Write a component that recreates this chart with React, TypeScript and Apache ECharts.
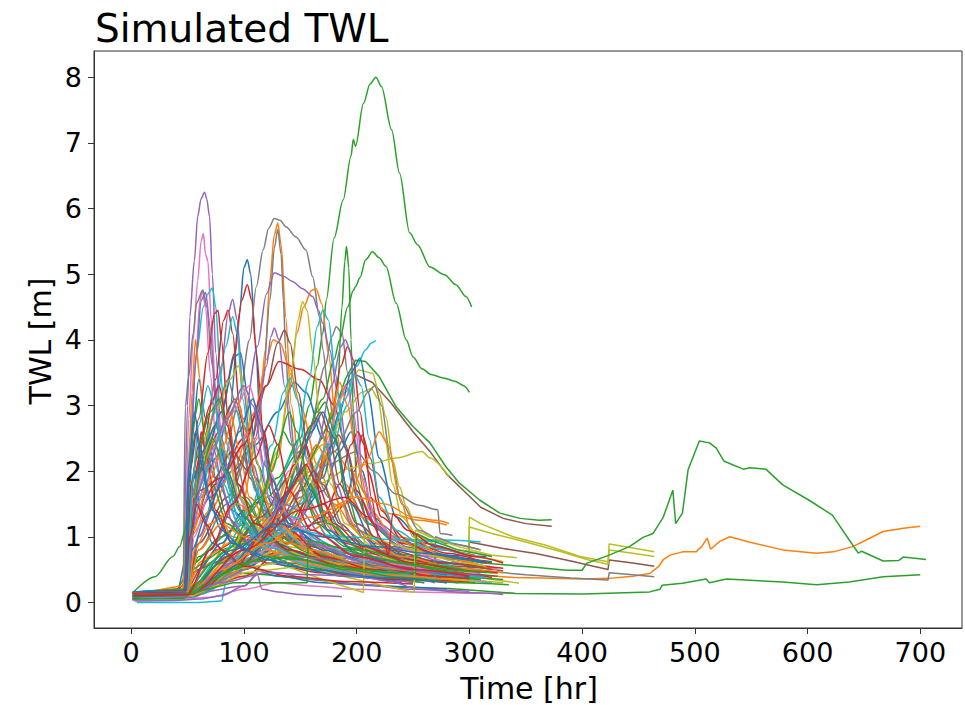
import React, { useEffect, useRef } from "react";
import * as echarts from "echarts";

type Pt = [number, number];

const xTicks = [0, 100, 200, 300, 400, 500, 600, 700];
const yTicks = [0, 1, 2, 3, 4, 5, 6, 7, 8];
const titleText = "Simulated TWL";
const xName = "Time [hr]";
const yName = "TWL [m]";

const blueRuns: Pt[][] = [
  [[2,0.12],[40,0.15],[52,0.9],[62,1.6],[75,2.2],[88,3.0],[96,4.4],[100,5.1],[103,5.22],[106,5.0],[110,4.0],[115,2.6],[125,1.6],[145,1.1],[175,0.8],[210,0.6],[260,0.45],[300,0.38]],
  [[3,0.05],[48,0.1],[55,1.2],[70,1.6],[90,2.0],[110,2.4],[130,2.9],[145,3.35],[155,3.2],[170,2.5],[185,1.6],[200,1.1],[230,0.85],[270,0.72],[315,0.7]],
  [[1,0.1],[50,0.2],[54,2.5],[60,3.4],[66,2.8],[75,1.9],[90,1.4],[110,1.0],[140,0.8],[180,0.55],[230,0.4],[290,0.3]],
  [[4,0.16],[45,0.2],[60,0.5],[80,0.9],[100,1.4],[115,1.55],[130,1.45],[150,1.1],[180,0.8],[220,0.6],[275,0.5],[318,0.55]],
  [[2,0.08],[48,0.1],[52,1.8],[65,2.2],[80,2.9],[92,3.75],[97,3.8],[103,3.2],[112,2.1],[125,1.5],[150,1.0],[190,0.7],[240,0.5],[300,0.42]],
  [[3,0.13],[50,0.15],[70,0.3],[100,0.6],[140,1.1],[170,1.7],[185,2.3],[195,2.6],[205,2.0],[215,1.3],[235,0.95],[265,0.75],[312,0.6]],
  [[5,0.1],[60,0.2],[100,0.5],[140,1.0],[170,1.9],[185,2.9],[195,3.5],[203,3.72],[210,3.2],[220,2.2],[235,1.3],[260,0.9],[300,0.7]],
  [[2,0.05],[47,0.08],[51,1.2],[56,2.0],[62,1.4],[72,0.9],[95,0.6],[130,0.4],[170,0.3],[220,0.25],[280,0.2]],
  [[4,0.1],[55,0.12],[90,0.4],[120,0.9],[145,1.8],[160,2.6],[170,2.9],[180,2.5],[195,1.5],[215,0.9],[250,0.65],[305,0.55]],
  [[1,0.15],[48,0.17],[53,1.0],[63,2.3],[75,2.7],[85,2.0],[100,1.3],[120,0.95],[160,0.7],[210,0.5],[260,0.42]],
  [[3,0.1],[49,0.12],[54,0.8],[66,1.3],[82,1.9],[96,2.6],[108,3.1],[115,2.7],[124,1.9],[140,1.2],[170,0.8],[220,0.55],[280,0.42]],
  [[2,0.05],[55,0.1],[85,0.5],[115,1.0],[135,1.6],[150,2.0],[160,1.7],[175,1.1],[200,0.75],[245,0.5],[300,0.38]],
  [[1,0.16],[47,0.18],[51,2.1],[56,2.9],[61,2.4],[68,1.6],[80,1.1],[100,0.8],[140,0.55],[190,0.4],[240,0.3]],
  [[2,0.12],[50,0.14],[90,0.8],[130,1.2],[170,1.0],[215,0.85],[260,0.75],[300,0.65],[320,0.62]],
  [[3,0.08],[48,0.1],[52,2.0],[57,2.6],[64,2.0],[72,1.4],[90,0.9],[120,0.65],[160,0.5],[220,0.38],[280,0.3]],
];

const orangeRuns: Pt[][] = [
  [[2,0.1],[50,0.15],[70,0.6],[95,1.2],[112,2.5],[119,3.85],[123,4.9],[127,5.6],[130,5.78],[133,5.45],[137,4.35],[142,3.0],[150,1.9],[165,1.3],[190,0.9],[230,0.6],[280,0.45]],
  [[3,0.05],[50,0.1],[80,0.5],[110,1.2],[130,2.2],[140,3.2],[147,4.1],[153,4.5],[160,4.75],[164,4.78],[169,4.55],[175,3.8],[182,2.6],[190,1.8],[205,1.3],[235,1.0],[280,0.8]],
  [[1,0.12],[48,0.15],[52,1.0],[70,1.4],[90,2.0],[110,2.9],[120,3.7],[126,4.0],[132,3.95],[140,3.6],[150,3.0],[165,2.1],[180,1.5],[200,1.1],[240,0.8],[285,0.65]],
  [[4,0.1],[55,0.2],[90,0.7],[130,1.4],[160,2.0],[180,2.3],[195,2.0],[210,1.6],[230,1.35],[255,1.25],[280,1.18]],
  [[2,0.08],[48,0.1],[60,0.6],[90,0.95],[120,0.85],[150,0.75],[200,0.6],[250,0.5],[300,0.43],[340,0.38],[374,0.366],[400,0.355],[424,0.366],[445,0.4],[460,0.44],[468,0.55],[472,0.65],[478,0.72],[489,0.77],[501,0.77],[506,0.85],[511,0.98],[514,0.81],[522,0.93],[531,1.0],[548,0.92],[578,0.8],[608,0.75],[623,0.77],[640,0.85],[652,0.95],[667,1.08],[685,1.13],[700,1.16]],
  [[3,0.14],[46,0.2],[50,1.6],[54,3.2],[57,4.0],[61,3.4],[66,2.2],[75,1.4],[90,1.0],[120,0.75],[160,0.55],[210,0.4],[265,0.32]],
  [[2,0.1],[60,0.15],[100,0.4],[140,0.9],[165,1.8],[178,2.9],[185,3.35],[192,3.0],[200,2.2],[212,1.4],[235,0.95],[270,0.7],[325,0.5]],
  [[3,0.05],[48,0.08],[52,1.2],[60,1.9],[75,2.5],[88,2.9],[96,2.3],[105,1.6],[125,1.1],[155,0.8],[200,0.6],[250,0.45],[300,0.36]],
  [[1,0.1],[70,0.3],[120,0.7],[160,1.1],[190,1.5],[210,2.2],[220,2.6],[228,2.4],[238,1.6],[250,1.0],[275,0.7],[320,0.5]],
  [[4,0.12],[50,0.14],[56,0.8],[70,1.2],[95,1.5],[110,1.3],[140,0.9],[180,0.6],[230,0.42],[290,0.33]],
  [[2,0.1],[48,0.12],[55,1.1],[68,1.8],[82,2.4],[94,3.1],[102,2.6],[112,1.8],[130,1.2],[160,0.8],[210,0.55],[265,0.42]],
  [[4,0.08],[55,0.1],[95,0.6],[130,1.3],[150,1.9],[165,2.4],[173,2.2],[185,1.5],[205,1.0],[240,0.7],[290,0.52],[330,0.45]],
  [[1,0.14],[50,0.16],[60,0.8],[80,1.2],[100,1.0],[130,0.75],[170,0.55],[220,0.42],[280,0.35]],
  [[2,0.1],[48,0.12],[80,0.5],[120,0.9],[160,1.3],[200,1.6],[225,1.5],[250,1.3],[270,1.25],[282,1.2]],
];

const greenRuns: Pt[][] = [
  [[2,0.1],[40,0.2],[55,0.6],[80,1.0],[110,1.5],[130,1.9],[150,2.5],[158,3.0],[165,3.6],[170,4.1],[173,4.6],[180,5.55],[188,6.13],[195,6.8],[197,7.05],[199,6.95],[206,7.6],[212,7.9],[217,8.0],[222,7.86],[231,7.2],[238,6.54],[247,5.63],[254,5.45],[265,5.11],[278,4.99],[288,4.84],[297,4.66],[302,4.5]],
  [[3,0.1],[48,0.15],[60,0.7],[90,1.1],[120,1.6],[150,2.3],[170,3.1],[180,3.7],[185,4.0],[192,4.5],[197,4.75],[199,4.81],[203,4.95],[208,5.22],[214,5.34],[220,5.25],[226,5.12],[235,4.56],[244,4.0],[250,3.74],[258,3.56],[266,3.47],[277,3.42],[287,3.37],[295,3.3],[300,3.2]],
  [[1,0.05],[50,0.1],[90,0.5],[130,1.0],[160,1.6],[175,2.3],[183,3.2],[187,4.5],[189.5,5.2],[191,5.42],[193,5.1],[195,4.0],[197,2.9],[200,1.8],[210,1.2],[240,0.85],[290,0.6]],
  [[2,0.12],[50,0.15],[70,0.6],[100,1.0],[130,1.5],[160,2.2],[180,2.9],[190,3.4],[199,3.69],[208,3.67],[220,3.44],[235,2.98],[250,2.68],[265,2.43],[279,2.07],[291,1.82],[309,1.56],[327,1.36],[345,1.28],[362,1.25],[373,1.26]],
  [[1,0.1],[48,0.12],[55,0.5],[80,0.8],[110,0.95],[150,0.9],[200,0.8],[250,0.72],[290,0.66],[312,0.6],[340,0.56],[356,0.54],[386,0.49],[400,0.49],[404,0.595],[424,0.72],[442,0.85],[454,0.99],[463,1.05],[472,1.3],[480.5,1.71],[483,1.2],[489,1.36],[494,2.02],[504,2.46],[513,2.43],[519,2.35],[526,2.15],[543,2.03],[549,2.05],[563,2.03],[578,1.79],[601,1.56],[622,1.33],[637,0.95],[645,0.75],[648,0.78],[667,0.63],[681,0.64],[685,0.69],[705,0.655]],
  [[3,0.08],[46,0.1],[60,0.3],[90,0.45],[120,0.42],[160,0.35],[200,0.28],[240,0.23],[282,0.21],[341,0.137],[401,0.127],[460,0.16],[469,0.2],[471,0.26],[489,0.29],[510,0.355],[513,0.3],[528,0.355],[578,0.31],[608,0.27],[637,0.31],[667,0.39],[700,0.42]],
  [[1,0.14],[21,0.39],[37,0.7],[43,0.85],[48,1.1],[52,2.0],[56,2.8],[60,3.1],[65,2.6],[72,1.8],[85,1.2],[110,0.8],[150,0.55],[200,0.4],[260,0.3]],
  [[2,0.1],[55,0.15],[100,0.6],[130,1.3],[150,2.2],[165,2.9],[172,3.05],[180,2.6],[190,1.7],[205,1.0],[230,0.7],[270,0.5],[325,0.45]],
  [[4,0.06],[47,0.08],[51,1.5],[58,2.2],[70,2.9],[78,3.1],[86,2.5],[98,1.6],[120,1.1],[160,0.75],[210,0.55],[270,0.4],[330,0.35]],
  [[2,0.15],[50,0.2],[80,0.6],[110,1.2],[125,2.0],[135,2.6],[142,2.4],[150,1.8],[165,1.2],[190,0.85],[230,0.6],[285,0.45]],
  [[2,0.08],[50,0.1],[54,1.4],[62,2.0],[72,2.5],[84,2.0],[96,1.4],[115,1.0],[150,0.7],[200,0.5],[260,0.4],[310,0.35]],
  [[3,0.12],[52,0.14],[85,0.8],[115,1.6],[130,2.4],[140,2.9],[147,2.6],[158,1.8],[175,1.2],[205,0.8],[250,0.6],[300,0.48]],
  [[1,0.05],[46,0.06],[60,0.25],[90,0.5],[120,0.7],[150,0.65],[190,0.5],[240,0.38],[290,0.3],[335,0.27]],
  [[2,0.1],[50,0.12],[100,0.6],[140,0.7],[180,0.55],[230,0.45],[252,0.45],[253,1.05],[265,0.95],[290,0.8],[320,0.7]],
  [[1,0.1],[50,0.12],[90,0.3],[130,0.3],[156,0.3],[157,0.95],[170,0.9],[200,0.75],[240,0.6],[280,0.5],[320,0.45]],
];

const redRuns: Pt[][] = [
  [[2,0.1],[48,0.12],[53,1.5],[65,2.2],[80,2.9],[92,3.8],[98,4.6],[103,4.84],[107,4.6],[111,3.8],[117,2.6],[128,1.6],[150,1.1],[190,0.75],[240,0.55],[295,0.45]],
  [[3,0.08],[49,0.1],[55,1.9],[65,2.5],[75,3.4],[82,4.3],[86,4.45],[90,4.1],[96,3.0],[105,1.9],[120,1.3],[150,0.9],[200,0.6],[260,0.45]],
  [[1,0.1],[40,0.2],[60,0.5],[75,0.8],[100,1.0],[123,1.15],[150,1.15],[176,1.25],[190,1.5],[198,2.0],[205,2.55],[212,2.2],[222,1.4],[240,0.95],[270,0.7],[310,0.55]],
  [[2,0.12],[48,0.15],[55,1.2],[75,1.8],[100,2.5],[120,3.3],[131,3.67],[150,3.55],[167,3.39],[180,3.0],[190,2.4],[200,1.7],[215,1.2],[240,0.9],[280,0.7],[320,0.6]],
  [[4,0.1],[60,0.15],[100,0.5],[140,1.1],[165,1.9],[178,2.9],[186,3.6],[192,3.9],[197,3.7],[203,2.9],[210,2.0],[222,1.3],[245,0.95],[280,0.75],[315,0.6]],
  [[2,0.05],[48,0.1],[52,2.0],[60,2.8],[68,3.8],[74,4.4],[77,4.45],[80,4.0],[86,2.8],[95,1.8],[110,1.2],[140,0.8],[190,0.55],[250,0.4],[300,0.33]],
  [[3,0.12],[55,0.15],[100,0.4],[140,0.9],[170,1.3],[185,1.8],[195,2.4],[201,2.6],[207,2.4],[213,1.6],[220,0.95],[240,0.6],[280,0.45],[320,0.38]],
  [[1,0.06],[48,0.08],[52,1.0],[58,1.8],[62,2.6],[67,2.2],[75,1.4],[90,0.9],[120,0.6],[170,0.45],[230,0.35],[300,0.32]],
  [[2,0.14],[50,0.16],[90,0.5],[130,1.4],[145,2.1],[155,2.4],[162,2.0],[172,1.3],[190,0.9],[225,0.7],[270,0.6],[330,0.52]],
  [[4,0.1],[47,0.12],[51,1.3],[60,1.7],[80,1.9],[100,2.4],[112,2.9],[118,2.6],[126,1.7],[140,1.1],[170,0.7],[215,0.5],[275,0.38]],
  [[2,0.1],[49,0.12],[53,1.8],[60,2.4],[70,3.0],[78,3.3],[85,2.7],[95,1.8],[110,1.2],[140,0.8],[185,0.55],[240,0.42],[300,0.36]],
  [[3,0.08],[55,0.1],[90,0.5],[120,1.1],[140,1.7],[155,2.1],[165,1.8],[180,1.2],[205,0.85],[250,0.6],[300,0.48],[325,0.45]],
  [[1,0.14],[48,0.16],[52,1.0],[58,1.5],[66,1.2],[80,0.8],[100,0.55],[140,0.4],[190,0.32],[250,0.28]],
  [[1,0.1],[52,0.12],[100,0.8],[150,1.4],[190,1.6],[210,1.3],[225,0.9],[228,0.7],[232,1.35],[245,1.1],[270,0.85],[305,0.7],[330,0.6]],
  [[2,0.1],[50,0.12],[70,0.8],[90,1.5],[110,2.2],[122,2.7],[130,2.4],[140,1.7],[160,1.1],[200,0.7],[250,0.5],[300,0.4]],
];

const purpleRuns: Pt[][] = [
  [[2,0.1],[46,0.12],[50,3.0],[52,4.35],[56,5.2],[59,5.88],[62,6.15],[65,6.25],[67,6.15],[69.5,5.88],[72,5.0],[75,3.8],[80,2.5],[90,1.6],[110,1.0],[150,0.6],[200,0.4],[260,0.3]],
  [[3,0.08],[48,0.1],[53,1.6],[62,2.2],[72,2.8],[80,3.6],[86,4.4],[90,4.62],[94,4.3],[99,3.3],[108,2.1],[120,1.4],[150,0.9],[200,0.6],[255,0.45]],
  [[1,0.12],[50,0.15],[60,1.0],[80,1.8],[100,2.8],[112,3.9],[120,4.7],[127,5.02],[135,4.97],[143,4.89],[152,4.78],[161,4.66],[166,4.45],[170,4.25],[176,3.85],[183,3.2],[192,2.3],[202,1.6],[220,1.1],[250,0.8],[290,0.6]],
  [[4,0.1],[52,0.15],[70,0.8],[95,1.6],[110,2.5],[120,3.6],[124,4.05],[127,4.18],[131,4.0],[136,3.3],[143,2.4],[155,1.6],[175,1.1],[210,0.75],[260,0.55],[305,0.47]],
  [[2,0.1],[55,0.12],[100,0.6],[140,1.4],[165,2.4],[178,3.3],[186,3.9],[190,4.0],[194,3.85],[199,3.1],[205,2.0],[215,1.2],[240,0.8],[280,0.6],[320,0.52]],
  [[3,0.02],[40,0.03],[60,0.05],[80,0.1],[100,0.25],[112,0.42],[116,0.2],[130,0.16],[150,0.12],[170,0.1],[187,0.085]],
  [[1,0.05],[49,0.08],[54,1.3],[64,1.9],[74,2.3],[80,1.8],[90,1.2],[110,0.8],[140,0.55],[190,0.4],[250,0.3]],
  [[2,0.12],[50,0.14],[90,0.6],[120,1.1],[145,1.8],[158,2.5],[165,2.8],[172,2.5],[182,1.8],[195,1.2],[220,0.8],[260,0.55],[310,0.45]],
  [[3,0.15],[48,0.18],[52,2.2],[58,3.8],[62,4.6],[66,4.72],[70,4.2],[75,3.0],[82,2.0],[95,1.3],[120,0.9],[160,0.6],[210,0.42],[270,0.34]],
  [[2,0.1],[50,0.12],[100,0.25],[115,0.5],[130,0.45],[160,0.35],[200,0.28],[250,0.2],[300,0.17]],
  [[2,0.1],[50,0.12],[56,1.5],[68,2.1],[85,2.8],[100,3.3],[108,3.0],[118,2.1],[132,1.4],[160,0.9],[205,0.62],[260,0.46],[310,0.4]],
  [[4,0.06],[52,0.08],[80,0.5],[110,1.0],[135,1.5],[150,1.4],[170,1.0],[200,0.7],[245,0.5],[295,0.4]],
  [[1,0.1],[50,0.12],[80,0.3],[120,0.45],[160,0.42],[200,0.4],[230,0.32],[255,0.2],[300,0.15],[330,0.12]],
];

const brownRuns: Pt[][] = [
  [[2,0.1],[50,0.12],[70,0.5],[100,0.9],[130,1.4],[160,2.2],[180,2.9],[190,3.3],[199,3.47],[214,3.35],[230,3.05],[250,2.6],[265,2.3],[280,1.95],[295,1.7],[310,1.45],[330,1.28],[350,1.2],[373,1.16]],
  [[3,0.08],[48,0.1],[60,0.5],[100,0.8],[140,0.9],[180,0.8],[220,0.65],[260,0.55],[299,0.46],[300,0.92],[330,0.82],[360,0.74],[390,0.63],[410,0.55],[423,0.5],[424,0.645],[445,0.6],[464,0.55]],
  [[1,0.12],[49,0.15],[60,0.9],[85,1.6],[105,2.4],[120,3.3],[130,3.95],[136,4.15],[141,3.95],[148,3.2],[158,2.2],[170,1.5],[190,1.0],[230,0.7],[280,0.52]],
  [[2,0.05],[47,0.07],[51,1.1],[58,1.7],[66,2.3],[74,1.9],[85,1.3],[105,0.9],[140,0.6],[190,0.45],[250,0.35],[305,0.3]],
  [[3,0.1],[55,0.12],[100,0.5],[140,1.0],[165,1.8],[178,2.4],[184,2.55],[192,2.3],[200,1.6],[215,1.0],[245,0.7],[290,0.55],[330,0.48]],
  [[4,0.14],[50,0.16],[53,1.4],[62,2.0],[78,2.6],[92,3.1],[100,2.7],[110,1.9],[125,1.3],[155,0.9],[200,0.65],[255,0.5]],
  [[1,0.08],[52,0.1],[80,0.4],[110,0.8],[130,1.0],[150,0.95],[180,0.8],[220,0.6],[270,0.45],[325,0.4]],
  [[2,0.1],[50,0.12],[56,1.2],[70,1.8],[90,2.3],[104,2.0],[118,1.4],[140,0.95],[180,0.65],[230,0.48],[290,0.38]],
  [[3,0.12],[55,0.14],[100,0.6],[130,1.2],[150,1.7],[162,2.0],[170,1.8],[185,1.2],[210,0.8],[255,0.58],[310,0.46]],
  [[2,0.14],[52,0.16],[85,0.7],[115,1.3],[140,1.9],[160,2.7],[168,2.9],[175,2.6],[185,1.8],[200,1.2],[230,0.8],[275,0.6],[320,0.5]],
];

const pinkRuns: Pt[][] = [
  [[2,0.12],[47,0.15],[51,2.8],[55,4.0],[59,4.9],[62,5.5],[64,5.62],[66,5.3],[68,5.2],[71,4.3],[75,3.2],[82,2.0],[95,1.3],[120,0.85],[160,0.55],[220,0.38],[280,0.3]],
  [[3,0.08],[48,0.1],[52,2.0],[57,3.6],[61,4.6],[63,4.75],[66,4.5],[70,3.5],[76,2.3],[85,1.5],[100,1.0],[130,0.7],[180,0.5],[240,0.35]],
  [[1,0.03],[40,0.04],[70,0.08],[100,0.2],[130,0.3],[160,0.25],[200,0.2],[250,0.16],[300,0.14],[340,0.14]],
  [[4,0.1],[48,0.12],[53,1.4],[63,2.0],[72,2.6],[79,2.9],[86,2.4],[95,1.6],[110,1.1],[140,0.75],[185,0.52],[240,0.4],[295,0.33]],
  [[2,0.14],[55,0.16],[95,0.7],[125,1.3],[140,2.0],[150,2.4],[158,2.1],[168,1.4],[185,0.95],[215,0.7],[260,0.52],[310,0.44]],
  [[3,0.06],[50,0.08],[56,1.0],[68,1.6],[88,2.1],[105,2.6],[113,2.3],[122,1.6],[138,1.1],[165,0.75],[210,0.52],[270,0.38]],
  [[1,0.1],[60,0.14],[110,0.6],[150,1.3],[172,2.3],[185,3.1],[191,3.3],[197,2.9],[205,1.9],[218,1.2],[245,0.8],[285,0.6],[325,0.5]],
  [[2,0.1],[49,0.12],[54,1.1],[64,1.7],[76,2.2],[88,1.9],[100,1.3],[120,0.9],[155,0.6],[205,0.45],[260,0.35]],
  [[1,0.05],[52,0.07],[90,0.4],[120,0.8],[140,1.2],[155,1.1],[175,0.8],[210,0.55],[260,0.4],[315,0.32]],
  [[1,0.12],[49,0.14],[55,1.6],[70,2.3],[90,2.9],[105,3.3],[112,2.9],[122,2.0],[140,1.3],[170,0.85],[220,0.6],[275,0.45]],
];

const grayRuns: Pt[][] = [
  [[2,0.1],[49,0.12],[60,1.0],[80,2.0],[95,3.0],[105,4.0],[111,4.81],[117,5.37],[122,5.7],[127,5.85],[132,5.82],[137.5,5.72],[146,5.57],[155,5.37],[161,4.96],[167,4.35],[170,3.85],[175,3.2],[182,2.4],[192,1.7],[210,1.2],[240,0.9],[280,0.7]],
  [[3,0.08],[48,0.1],[60,0.8],[85,1.5],[105,2.3],[117,3.4],[123,4.6],[127,5.4],[130,5.68],[133,5.3],[135,4.6],[137,3.85],[140,3.0],[146,2.1],[155,1.5],[175,1.0],[210,0.7],[260,0.5],[310,0.4]],
  [[1,0.12],[30,0.15],[46,0.2],[48,2.98],[51,3.44],[55,4.1],[58,4.56],[63.5,4.76],[67,4.5],[72,3.6],[78,2.6],[88,1.7],[105,1.1],[140,0.7],[190,0.5],[250,0.38]],
  [[4,0.1],[55,0.15],[100,0.7],[135,1.6],[158,2.6],[172,3.6],[178,4.05],[182,4.2],[187,4.1],[192,3.5],[198,2.5],[206,1.7],[220,1.2],[245,0.9],[275,0.8],[305,0.72]],
  [[2,0.1],[50,0.12],[90,0.6],[140,1.4],[175,2.1],[200,2.3],[215,2.0],[235,1.65],[255,1.48],[272,1.41],[274,1.05],[285,1.02]],
  [[3,0.06],[48,0.08],[70,0.4],[110,0.7],[150,0.75],[200,0.65],[250,0.55],[300,0.5],[350,0.42],[390,0.37],[423,0.34],[424,0.45],[445,0.42],[464,0.39]],
  [[1,0.15],[49,0.18],[53,1.2],[62,1.8],[74,2.4],[84,2.8],[92,2.3],[102,1.6],[120,1.05],[150,0.75],[200,0.52],[255,0.4],[310,0.35]],
  [[2,0.1],[60,0.14],[110,0.7],[150,1.5],[180,2.3],[200,2.9],[210,3.2],[216,3.3],[222,3.0],[230,2.2],[240,1.5],[255,1.1],[280,0.9],[310,0.8]],
  [[3,0.1],[49,0.12],[54,1.6],[64,2.3],[76,3.0],[86,3.4],[94,2.9],[104,2.0],[120,1.3],[150,0.85],[195,0.6],[250,0.45],[300,0.38]],
  [[2,0.08],[56,0.1],[100,0.55],[130,1.1],[150,1.6],[165,1.9],[175,1.6],[190,1.1],[215,0.8],[260,0.58],[315,0.45]],
  [[3,0.1],[55,0.12],[100,0.5],[150,0.7],[200,0.6],[240,0.45],[269,0.3],[270,1.0],[285,0.9],[310,0.8]],
];

const oliveRuns: Pt[][] = [
  [[2,0.1],[50,0.12],[80,0.6],[120,0.9],[160,0.8],[200,0.65],[240,0.5],[270,0.42],[299,0.39],[300,1.3],[310,1.2],[338.6,1.0],[368,0.87],[398,0.7],[423,0.62],[424,0.89],[445,0.83],[464,0.77]],
  [[3,0.08],[49,0.1],[85,0.5],[125,0.75],[165,0.7],[210,0.55],[250,0.45],[299,0.36],[300,1.15],[320,1.05],[350,0.92],[380,0.78],[405,0.65],[423,0.58],[424,0.8],[445,0.75],[464,0.7]],
  [[1,0.12],[55,0.15],[100,0.7],[140,1.5],[170,2.4],[190,3.2],[202,3.54],[214,3.49],[220,3.19],[226,2.83],[232,2.17],[238,1.76],[244,1.46],[252,1.2],[265,1.0],[290,0.8],[320,0.7]],
  [[2,0.1],[55,0.12],[100,0.6],[140,1.3],[170,2.2],[190,2.9],[205,3.2],[213,3.26],[219,3.1],[225,2.5],[232,1.8],[240,1.3],[255,1.0],[280,0.8],[310,0.68],[330,0.62]],
  [[3,0.1],[52,0.14],[90,0.6],[130,1.2],[165,1.8],[195,2.05],[214,2.12],[235,2.2],[258,2.3],[265,2.2],[282,1.92]],
  [[1,0.1],[50,0.12],[80,0.6],[110,1.3],[130,2.3],[142,3.5],[148,4.3],[152,4.58],[156,4.45],[161,3.8],[168,2.7],[177,1.8],[190,1.2],[215,0.85],[255,0.6],[300,0.45]],
  [[4,0.12],[48,0.14],[52,1.8],[62,2.4],[75,2.9],[88,3.4],[95,3.6],[101,3.2],[110,2.2],[122,1.5],[145,1.0],[185,0.7],[235,0.5],[290,0.4],[344,0.29]],
  [[2,0.05],[50,0.07],[70,0.3],[100,0.6],[130,0.8],[160,0.7],[200,0.55],[250,0.42],[300,0.33],[330,0.3]],
  [[2,0.12],[49,0.14],[53,1.3],[62,2.1],[74,2.7],[84,2.3],[96,1.6],[115,1.1],[150,0.75],[200,0.52],[255,0.4],[305,0.34]],
  [[3,0.07],[55,0.1],[95,0.6],[125,1.3],[140,1.9],[150,2.2],[158,1.9],[170,1.3],[195,0.9],[235,0.65],[285,0.5],[325,0.44]],
  [[2,0.1],[50,0.12],[90,0.5],[130,0.6],[170,0.35],[206,0.15],[207,1.03],[220,0.95],[250,0.8],[280,0.65],[315,0.55]],
  [[3,0.08],[55,0.1],[100,0.45],[150,0.55],[200,0.35],[251,0.15],[252,1.1],[265,1.0],[290,0.85],[320,0.72],[342,0.68]],
];

const cyanRuns: Pt[][] = [
  [[2,0.14],[48,0.16],[52,2.5],[58,3.8],[64,4.5],[68,4.7],[72,4.79],[75,4.5],[79,3.5],[85,2.4],[95,1.6],[115,1.05],[150,0.7],[200,0.5],[260,0.38]],
  [[3,0.1],[60,0.12],[110,0.6],[150,1.3],[175,2.2],[192,3.0],[200,3.6],[208,3.85],[213,3.95],[217,3.99]],
  [[5,0.0],[30,0.0],[60,0.0],[80,0.02],[84,0.3],[95,0.5],[120,0.65],[150,0.7],[190,0.6],[230,0.5],[280,0.42],[315,0.4]],
  [[1,0.1],[52,0.12],[90,0.6],[120,1.3],[145,2.3],[158,3.4],[165,4.2],[170,4.45],[175,4.3],[181,3.5],[188,2.5],[197,1.7],[212,1.2],[240,0.95],[280,0.95],[310,0.92]],
  [[2,0.06],[49,0.08],[54,1.6],[64,2.3],[75,3.0],[84,3.9],[90,4.35],[94,4.1],[99,3.1],[107,2.0],[120,1.3],[150,0.85],[200,0.58],[255,0.42],[305,0.36]],
  [[3,0.12],[50,0.15],[80,0.7],[105,1.4],[125,2.4],[135,3.2],[141,3.42],[147,3.1],[156,2.2],[170,1.4],[195,0.95],[235,0.7],[285,0.55]],
  [[1,0.1],[48,0.12],[52,1.0],[60,1.6],[72,2.2],[82,1.8],[95,1.2],[120,0.8],[160,0.55],[210,0.42],[270,0.35],[320,0.3]],
  [[2,0.08],[60,0.12],[110,0.7],[150,1.5],[175,2.4],[190,3.1],[198,3.48],[204,3.3],[211,2.5],[220,1.6],[235,1.1],[260,0.85],[300,0.7]],
  [[1,0.12],[50,0.14],[55,1.4],[66,2.0],[80,2.6],[92,3.0],[100,2.5],[110,1.7],[128,1.15],[160,0.8],[210,0.55],[265,0.42],[315,0.38]],
  [[2,0.06],[55,0.08],[90,0.5],[115,1.0],[130,1.4],[145,1.3],[165,0.95],[200,0.65],[250,0.48],[300,0.4]],
  [[2,0.1],[50,0.12],[95,0.7],[140,1.1],[190,1.0],[240,0.95],[270,0.93],[285,0.9]],
  [[3,0.12],[50,0.14],[54,1.8],[60,2.7],[68,3.3],[74,3.0],[82,2.0],[95,1.3],[120,0.85],[160,0.6],[215,0.45],[270,0.36]],
];

const palette = ["#1f77b4", "#ff7f0e", "#2ca02c", "#d62728", "#9467bd", "#8c564b", "#e377c2", "#7f7f7f", "#bcbd22", "#17becf"];
const groups: Pt[][][] = [blueRuns, orangeRuns, greenRuns, redRuns, purpleRuns, brownRuns, pinkRuns, grayRuns, oliveRuns, cyanRuns];

const FONT = "DejaVu Sans";

export default function App() {
  const ref = useRef<HTMLDivElement>(null);
  useEffect(() => {
    if (!ref.current) return;
    const chart = echarts.init(ref.current, undefined, { renderer: "svg" });
    const series: any[] = [];
    const maxLen = Math.max(...groups.map((g) => g.length));
    for (let i = 0; i < maxLen; i++) {
      for (let c = 0; c < groups.length; c++) {
        const run = groups[c][i];
        if (!run) continue;
        let hasJump = false;
        for (let k = 1; k < run.length; k++) {
          if (run[k][0] - run[k - 1][0] <= 1.01 && Math.abs(run[k][1] - run[k - 1][1]) > 0.2) hasJump = true;
        }
        const long = run[run.length - 1][0] > 350;
        series.push({
          type: "line",
          data: run,
          showSymbol: false,
          symbol: "none",
          smooth: long || hasJump ? false : 0.3,
          smoothMonotone: "x",
          silent: true,
          lineStyle: { width: 1.5, color: palette[c] },
          itemStyle: { color: palette[c] },
          emphasis: { disabled: true },
        });
      }
    }
    chart.setOption({
      animation: false,
      backgroundColor: "#ffffff",
      grid: { left: 94, right: 3, top: 51, bottom: 77, show: true, borderColor: "#333333", borderWidth: 1, backgroundColor: "transparent" },
      xAxis: {
        type: "value",
        min: -33,
        max: 737,
        splitLine: { show: false },
        axisLine: { show: true, onZero: false, lineStyle: { color: "#333333", width: 1 } },
        axisTick: { show: true, inside: false, length: 6, lineStyle: { color: "#333333" }, customValues: xTicks },
        axisLabel: { show: true, customValues: xTicks, fontSize: 27, color: "#000", fontFamily: FONT, margin: 11 },
      },
      yAxis: {
        type: "value",
        min: -0.39,
        max: 8.4,
        splitLine: { show: false },
        axisLine: { show: true, onZero: false, lineStyle: { color: "#333333", width: 1 } },
        axisTick: { show: true, inside: false, length: 6, lineStyle: { color: "#333333" }, customValues: yTicks },
        axisLabel: { show: true, customValues: yTicks, fontSize: 27, color: "#000", fontFamily: FONT, margin: 12 },
      },
      graphic: [
        { type: "text", x: 95, y: 28, style: { text: titleText, fontSize: 39, fontFamily: FONT, fill: "#000", textAlign: "left", textVerticalAlign: "middle" } },
        { type: "text", x: 529, y: 688, style: { text: xName, fontSize: 30, fontFamily: FONT, fill: "#000", textAlign: "center", textVerticalAlign: "middle" } },
        { type: "text", x: 40, y: 341, rotation: Math.PI / 2, style: { text: yName, fontSize: 30, fontFamily: FONT, fill: "#000", textAlign: "center", textVerticalAlign: "middle" } },
      ],
      series,
    });
    return () => chart.dispose();
  }, []);
  return <div ref={ref} style={{ width: 965, height: 705, position: "absolute", left: 0, top: 0 }} />;
}
